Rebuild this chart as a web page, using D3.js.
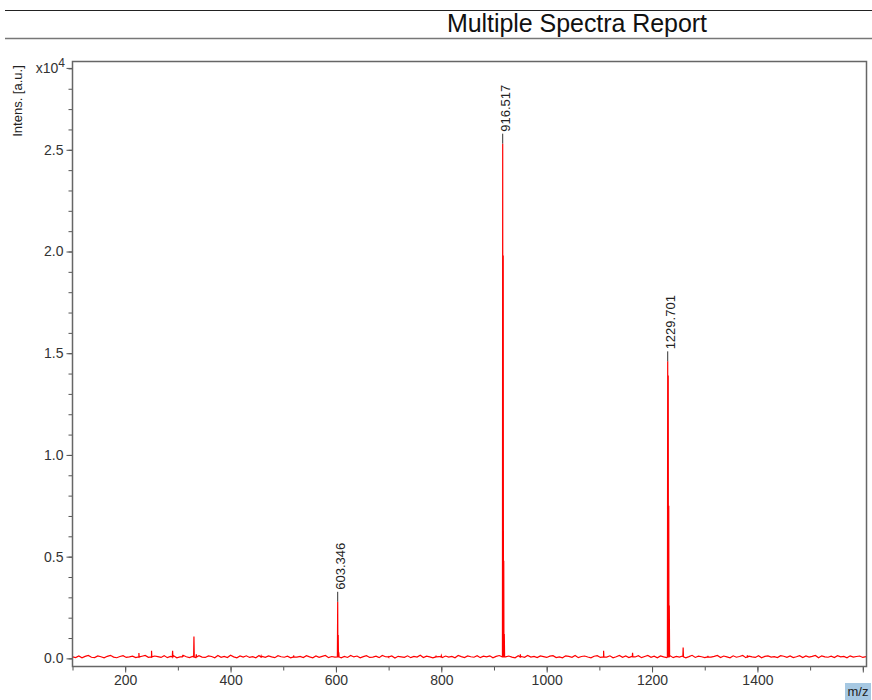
<!DOCTYPE html>
<html>
<head>
<meta charset="utf-8">
<script src="https://cdn.jsdelivr.net/npm/d3@7"></script>
<style>
  body { margin: 0; background: #fff; }
  svg { display: block; font-family: "Liberation Sans", Arial, sans-serif; }
</style>
</head>
<body>
<div id="viz"></div>
<script>
const width = 872,
    height = 700,
    margin = {top: 61.5, right: 5.5, bottom: 33.5, left: 72.5};

// peak labels (m/z, intensity in counts)
const peakLabels = ['603.346', '916.517', '1229.701'],
    peakMz = [603.346, 916.517, 1229.701],
    peakIntens = [2780, 25300, 14600];

// other peaks incl. isotopes and small peaks
const smallMz = [226, 250, 290, 309, 330.5, 335, 458, 520, 604.35, 605.35, 700, 790, 800,
        917.52, 918.52, 919.52, 950, 1108, 1163, 1230.7, 1231.7, 1232.7, 1259, 1306, 1381],
    smallIntens = [260, 370, 370, 150, 1070, 200, 120, 90, 1150, 300, 80, 100, 130,
        19800, 4800, 1200, 200, 370, 270, 13900, 7500, 2600, 530, 120, 150];

// baseline noise, counts, starting at m/z 100, every 6 m/z
const noiseStart = 100, noiseStep = 6;
const noise = [
    70,40,115,30,95,140,55,35,120,80,25,100,150,60,30,90,130,45,75,110,35,
    60,105,145,50,25,115,85,45,135,35,95,125,30,70,150,80,40,100,35,130,65,
    45,120,90,30,140,55,100,40,150,75,30,115,60,125,45,85,25,140,95,50,120,
    70,35,130,80,55,105,25,145,65,95,40,135,75,30,115,50,100,140,35,90,60,
    125,30,95,45,145,70,115,25,85,130,45,65,105,35,140,80,55,120,20,100,75,
    50,125,35,95,65,150,40,110,75,30,135,90,45,115,60,100,30,140,85,40,120,
    80,55,130,35,105,70,125,25,95,140,40,75,115,60,30,130,90,50,145,65,100,
    35,120,85,45,110,135,40,75,25,125,95,55,140,35,90,115,65,30,105,130,45,
    95,60,125,30,80,145,50,115,40,100,70,130,35,90,140,55,110,25,120,75,40,
    135,35,100,65,115,30,85,150,45,105,80,35,125,60,95,140,40,115,70,25,125,
    55,90,140,35,110,75,45,130,30,100,120,60,85,40,135,105,50,115,35,80,130,
    40,115,60,95,145,30,125,70,55,105,40,135,75,100,30,125,65,90,115,45,85
];

const xMinorTicks = [100, 200, 300, 400, 500, 600, 700, 800, 900, 1000, 1100, 1200, 1300, 1400, 1500, 1600],
    xMajorTicks = [200, 400, 600, 800, 1000, 1200, 1400, 1600],
    xTickLabels = ['200', '400', '600', '800', '1000', '1200', '1400', ''],
    yMajorTicks = [0, 5000, 10000, 15000, 20000, 25000],
    yTickLabels = ['0.0', '0.5', '1.0', '1.5', '2.0', '2.5'];
const yMinorTicks = [];
for (let v = 0; v <= 29000; v += 1000) yMinorTicks.push(v);

// build the trace
let trace = noise.map((d, i) => [noiseStart + i * noiseStep, d]);
const allMz = peakMz.concat(smallMz),
    allIntens = peakIntens.concat(smallIntens);
allMz.forEach(function(m, i) {
    trace.push([m - 0.6, 70]);
    trace.push([m, allIntens[i]]);
    trace.push([m + 0.6, 70]);
});
trace.sort((a, b) => a[0] - b[0]);

const x = d3.scaleLinear()
    .domain([100, 1607])
    .range([margin.left, width - margin.right]);

const y = d3.scaleLinear()
    .domain([-400, 29340])
    .range([height - margin.bottom, margin.top]);

const svg = d3.select('#viz').append('svg')
    .attr('width', width)
    .attr('height', height);

// header
svg.append('line')
    .attr('x1', 5).attr('x2', width).attr('y1', 10.5).attr('y2', 10.5)
    .attr('stroke', '#222').attr('stroke-width', 1);
svg.append('line')
    .attr('x1', 5).attr('x2', width).attr('y1', 38.5).attr('y2', 38.5)
    .attr('stroke', '#777').attr('stroke-width', 1.5);
svg.append('text')
    .attr('x', 577).attr('y', 32)
    .attr('text-anchor', 'middle')
    .attr('font-size', 25)
    .attr('textLength', 260)
    .attr('fill', '#111')
    .text('Multiple Spectra Report');

// axes
const xMinor = d3.axisBottom(x).tickValues(xMinorTicks).tickSize(4).tickFormat('');
const xMajor = d3.axisBottom(x).tickValues(xMajorTicks).tickSize(6)
    .tickFormat((d, i) => xTickLabels[i]);
const yMinor = d3.axisLeft(y).tickValues(yMinorTicks).tickSize(4).tickFormat('');
const yMajor = d3.axisLeft(y).tickValues(yMajorTicks).tickSize(6)
    .tickFormat((d, i) => yTickLabels[i]);

const bottom = height - margin.bottom;
[xMinor, xMajor].forEach(function(ax) {
    svg.append('g').attr('class', 'axis')
        .attr('transform', 'translate(0,' + bottom + ')')
        .call(ax);
});
[yMinor, yMajor].forEach(function(ax) {
    svg.append('g').attr('class', 'axis')
        .attr('transform', 'translate(' + margin.left + ',0)')
        .call(ax);
});
svg.selectAll('.axis .domain').remove();
svg.selectAll('.axis line').attr('stroke', '#555');
svg.selectAll('.axis text')
    .attr('font-size', 14)
    .attr('font-family', '"Liberation Sans", Arial, sans-serif')
    .attr('fill', '#333');

// top tick for the exponent
svg.append('line')
    .attr('x1', margin.left - 6).attr('x2', margin.left)
    .attr('y1', y(29000)).attr('y2', y(29000))
    .attr('stroke', '#555');
const expo = svg.append('text')
    .attr('x', 65).attr('y', y(29000) + 5)
    .attr('text-anchor', 'end')
    .attr('font-size', 14)
    .attr('fill', '#333');
expo.append('tspan').text('x10');
expo.append('tspan').attr('dy', -6).attr('font-size', 12).text('4');

// y label
svg.append('text')
    .attr('transform', 'translate(22,101) rotate(-90)')
    .attr('text-anchor', 'middle')
    .attr('font-size', 13)
    .attr('fill', '#222')
    .text('Intens. [a.u.]');

// m/z label
svg.append('rect')
    .attr('x', 845).attr('y', 683).attr('width', 26).attr('height', 17)
    .attr('fill', '#a6c8e2');
svg.append('text')
    .attr('x', 858).attr('y', 696)
    .attr('text-anchor', 'middle')
    .attr('font-size', 13)
    .attr('fill', '#222')
    .text('m/z');

// spectrum
svg.append('defs').append('clipPath').attr('id', 'clip')
    .append('rect')
    .attr('x', margin.left).attr('y', margin.top)
    .attr('width', width - margin.left - margin.right)
    .attr('height', height - margin.top - margin.bottom);

const line = d3.line()
    .x(d => x(d[0]))
    .y(d => y(d[1]));

svg.append('path')
    .datum(trace)
    .attr('clip-path', 'url(#clip)')
    .attr('fill', 'none')
    .attr('stroke', '#ff0000')
    .attr('stroke-width', 1.2)
    .attr('d', line);

// peak labels
const labels = svg.append('g')
    .selectAll('g')
    .data(peakMz)
    .enter().append('g');

labels.append('line')
    .attr('x1', d => x(d)).attr('x2', d => x(d))
    .attr('y1', (d, i) => y(peakIntens[i]))
    .attr('y2', (d, i) => y(peakIntens[i]) - 10)
    .attr('stroke', '#333');

labels.append('text')
    .attr('transform', (d, i) => 'translate(' + (x(d) + 2.5) + ',' + (y(peakIntens[i]) - 12) + ') rotate(-90)')
    .attr('dy', '0.36em')
    .attr('font-size', 13)
    .attr('fill', '#222')
    .text((d, i) => peakLabels[i]);

// frame
svg.append('rect')
    .attr('x', margin.left).attr('y', margin.top)
    .attr('width', width - margin.left - margin.right)
    .attr('height', height - margin.top - margin.bottom)
    .attr('fill', 'none')
    .attr('stroke', '#666')
    .attr('stroke-width', 1.5);
</script>
</body>
</html>
